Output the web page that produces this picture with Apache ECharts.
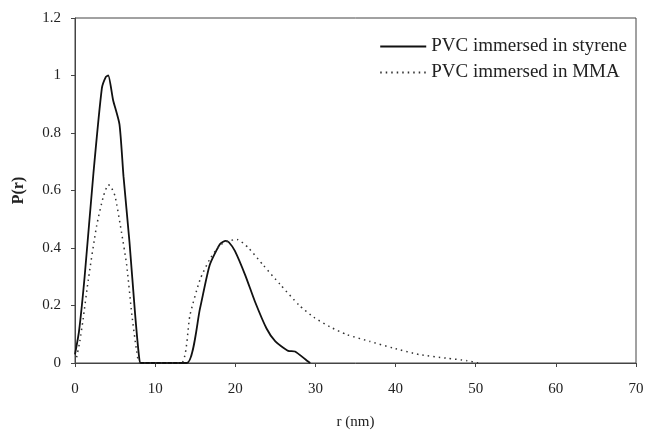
<!DOCTYPE html>
<html>
<head>
<meta charset="utf-8">
<script src="https://cdn.jsdelivr.net/npm/echarts@6/dist/echarts.min.js"></script>
<style>
  html, body { margin: 0; padding: 0; background: #fff; }
  #chart { width: 647px; height: 438px; }
</style>
</head>
<body>
<div id="chart"></div>
<script>
// P(r) distributions, [r (nm), P(r)]
const styrene = [
  [0, 0.03], [0.5, 0.11], [1.2, 0.3], [2.3, 0.66], [3.35, 0.955], [3.85, 0.995],
  [4.15, 1.0], [4.75, 0.915], [5.55, 0.83], [6.05, 0.65], [6.8, 0.42], [7.5, 0.17],
  [8.0, 0.02], [8.2, 0], [13.95, 0], [15.6, 0.19], [16.8, 0.34], [18.1, 0.414],
  [18.8, 0.425], [19.2, 0.42], [19.95, 0.39], [21.25, 0.305], [22.45, 0.214],
  [23.9, 0.12], [25.0, 0.075], [26.6, 0.042], [27.45, 0.04], [28.95, 0.008], [29.35, 0]
];
const mma = [
  [0.2, 0.02], [0.6, 0.075], [1.0, 0.15], [1.66, 0.29], [2.7, 0.477], [3.55, 0.58],
  [4.15, 0.62], [4.45, 0.615], [5.0, 0.58], [5.8, 0.455], [6.45, 0.34], [7.1, 0.167],
  [7.7, 0.04], [8.1, 0], [13.25, 0], [14.35, 0.167], [15.6, 0.29], [16.8, 0.36],
  [18.1, 0.41], [19.2, 0.425], [20.2, 0.43], [21.65, 0.40], [23.5, 0.34],
  [25.6, 0.273], [28.0, 0.2], [29.75, 0.16], [31.8, 0.126], [33.9, 0.099],
  [36.8, 0.075], [39.7, 0.052], [43.0, 0.029], [46.3, 0.017], [48.9, 0.008], [50.3, 0]
];
const seriesNames = ['PVC immersed in styrene', 'PVC immersed in MMA'];

const FONT = '"Liberation Serif", "DejaVu Serif", serif';
const INK = '#222';

const chart = echarts.init(document.getElementById('chart'), null, { renderer: 'canvas' });

chart.setOption({
  animation: false,
  backgroundColor: '#fff',
  grid: {
    left: 75, right: 11, top: 18, bottom: 75,
    outerBoundsMode: 'none',
    containLabel: false,
    show: true, borderColor: '#444', borderWidth: 1
  },
  legend: {
    orient: 'vertical',
    right: 15, top: 32,
    itemWidth: 46, itemHeight: 10, itemGap: 7,
    itemStyle: { opacity: 0 },
    textStyle: { fontFamily: FONT, fontSize: 19, color: INK },
    data: seriesNames
  },
  xAxis: {
    type: 'value',
    min: 0, max: 70, interval: 10,
    name: 'r (nm)',
    nameLocation: 'middle',
    nameGap: 52,
    nameTextStyle: { fontFamily: FONT, fontSize: 15, color: INK },
    axisLine: { lineStyle: { color: '#444', width: 1 } },
    axisTick: { show: true, length: 4, lineStyle: { color: '#444' } },
    axisLabel: { fontFamily: FONT, fontSize: 15, color: INK, margin: 19 },
    splitLine: { show: false }
  },
  yAxis: {
    type: 'value',
    min: 0, max: 1.2, interval: 0.2,
    name: 'P(r)',
    nameLocation: 'middle',
    nameGap: 48,
    nameTextStyle: { fontFamily: FONT, fontSize: 16, fontWeight: 'bold', color: INK },
    axisLine: { show: true, lineStyle: { color: '#444', width: 1 } },
    axisTick: { show: true, length: 4, lineStyle: { color: '#444' } },
    axisLabel: { fontFamily: FONT, fontSize: 15, color: INK, margin: 14 },
    splitLine: { show: false }
  },
  series: [
    {
      name: seriesNames[0],
      type: 'line',
      data: styrene,
      smooth: 0.2,
      symbol: 'none',
      lineStyle: { color: '#111', width: 1.8, type: 'solid' },
      itemStyle: { color: '#111' }
    },
    {
      name: seriesNames[1],
      type: 'line',
      data: mma,
      smooth: 0.2,
      symbol: 'none',
      lineStyle: { color: '#333', width: 1.5, type: [1.5, 4] },
      itemStyle: { color: '#333' }
    }
  ]
});
</script>
</body>
</html>
